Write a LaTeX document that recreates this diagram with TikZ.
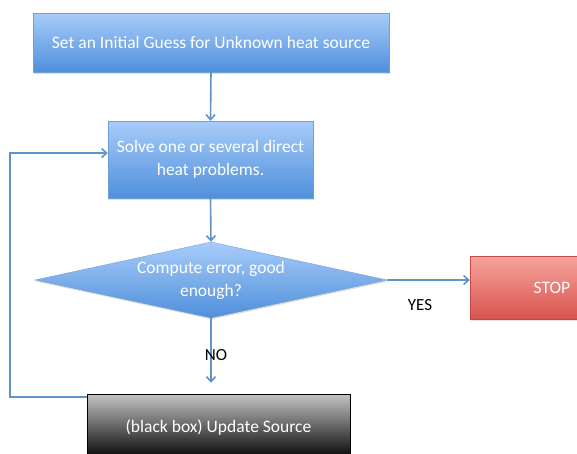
\documentclass[tikz,border=0pt]{standalone}
\usepackage{fontspec}
\setmainfont{Carlito}
\usetikzlibrary{shapes.geometric,arrows.meta,positioning,shadows}
\definecolor{bluetop}{HTML}{A8CCFA}
\definecolor{bluebot}{HTML}{4F8FDA}
\definecolor{blueedge}{HTML}{6E9FD6}
\definecolor{redtop}{HTML}{F7A39D}
\definecolor{redbot}{HTML}{D9534E}
\definecolor{greytop}{HTML}{C4C4C4}
\definecolor{arrowblue}{HTML}{5F93CB}

\begin{document}
\begin{tikzpicture}[x=1pt,y=-1pt,
	box/.style = {draw=blueedge, top color=bluetop, bottom color=bluebot,
		text=white, align=center, inner sep=0pt, font=\fontsize{17.5}{23}\selectfont,
		drop shadow={shadow xshift=1pt, shadow yshift=-1.5pt, opacity=0.25}},
	flow/.style = {draw=arrowblue, line width=1.6pt, -{Straight Barb[length=5pt,width=9pt]}},
	tag/.style = {font=\fontsize{17}{20}\selectfont}]

	\useasboundingbox (0,0) rectangle (577,453);

	\node[box, minimum width=356pt, minimum height=59pt] (init) at (211,42.5) {Set an Initial Guess for Unknown heat source};
	\node[box, minimum width=205pt, minimum height=77pt] (solve) at (210.5,159.5) {Solve one or several direct\\heat problems.};
	\node[box, diamond, aspect=4.63, minimum width=352pt, minimum height=76pt] (check) at (211,280) {Compute error, good\\enough?};
	\node[box, draw=redbot!90!black, top color=redtop, bottom color=redbot, minimum width=164pt, minimum height=63pt] (stop) at (552,287.5) {STOP};
	\node[box, draw=black, top color=greytop, bottom color=black, minimum width=263pt, minimum height=66pt] (update) at (218.5,427) {(black box) Update Source};

	\draw[flow] (init.south) -- (solve.north);
	\draw[flow] (solve.south) -- (check.north);
	\draw[flow] (check.east) -- (check.east -| stop.west);
	\draw[flow] (check.south) -- ([yshift=11pt]update.north -| check.south);
	\draw[flow] ([yshift=-3pt]update.north west) -| (10,153) -- ([yshift=6.5pt]solve.west);

	\node[tag] (yes) at (420,305) {YES};
	\node[tag] (no) at (216,355) {NO};
\end{tikzpicture}
\end{document}
